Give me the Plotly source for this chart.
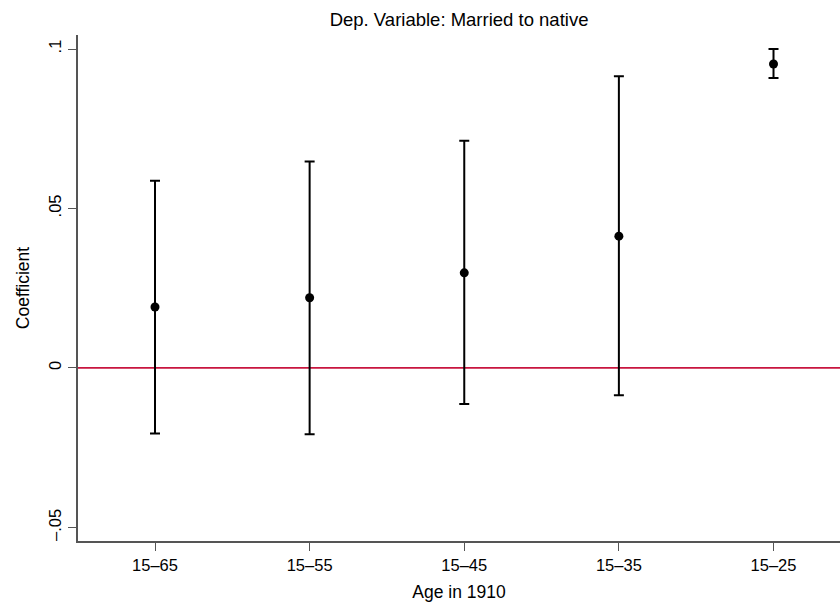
import plotly.graph_objects as go

categories = ["15–65", "15–55", "15–45", "15–35", "15–25"]
coef = [0.0191, 0.0220, 0.0298, 0.0413, 0.0953]
ci_low = [-0.0206, -0.0208, -0.0113, -0.0086, 0.0909]
ci_high = [0.0587, 0.0647, 0.0712, 0.0915, 0.1000]
ytick_vals = [-0.05, 0, 0.05, 0.1]
ytick_text = ["–.05", "0", ".05", ".1"]

xpos = list(range(1, len(categories) + 1))
err_plus = [h - c for h, c in zip(ci_high, coef)]
err_minus = [c - l for c, l in zip(coef, ci_low)]

FONT = "Liberation Sans, Arial, sans-serif"

fig = go.Figure()
fig.add_trace(go.Scatter(
    x=xpos, y=coef, mode="markers",
    marker=dict(color="black", size=9),
    error_y=dict(type="data", symmetric=False, array=err_plus, arrayminus=err_minus,
                 color="black", thickness=2, width=5),
    showlegend=False,
))
fig.add_shape(type="line", xref="paper", x0=0, x1=1, yref="y", y0=0, y1=0,
              line=dict(color="#c8163f", width=1.6), layer="below")

fig.update_layout(
    width=840, height=604,
    margin=dict(l=78, r=0, t=35, b=63),
    paper_bgcolor="white", plot_bgcolor="white",
    font=dict(family=FONT, color="black", size=16),
    title=dict(text="Dep. Variable: Married to native", x=0.5465, xanchor="center",
               y=0.967, yanchor="middle", font=dict(size=18.5)),
    xaxis=dict(range=[0.502, 5.43], tickvals=xpos, ticktext=categories,
               showgrid=False, zeroline=False, showline=True, linecolor="#555555",
               linewidth=2, ticks="outside", ticklen=8, tickcolor="#555555", tickwidth=1.2,
               tickfont=dict(size=16.5),
               title=dict(text="Age in 1910", font=dict(size=17.5), standoff=13)),
    yaxis=dict(range=[-0.0543, 0.1044], tickvals=ytick_vals, ticktext=ytick_text,
               tickangle=-90, showgrid=False, zeroline=False, showline=True,
               linecolor="#555555", linewidth=2, ticks="outside", ticklen=8,
               tickcolor="#555555", tickwidth=1.2, tickfont=dict(size=16.5),
               title=dict(text="Coefficient", font=dict(size=17.5), standoff=12)),
)

fig.write_html("out.html")
